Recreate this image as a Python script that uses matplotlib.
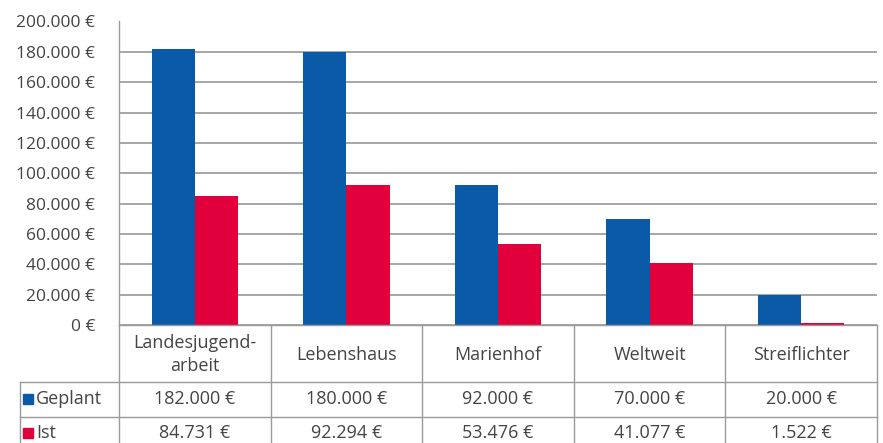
import matplotlib
matplotlib.use("Agg")
import matplotlib.pyplot as plt
import numpy as np
from matplotlib.lines import Line2D

categories = ["Landesjugend-\narbeit", "Lebenshaus", "Marienhof", "Weltweit", "Streiflichter"]
series_names = ["Geplant", "Ist"]
geplant = [182000, 180000, 92000, 70000, 20000]
ist = [84731, 92294, 53476, 41077, 1522]
yticks = [0, 20000, 40000, 60000, 80000, 100000, 120000, 140000, 160000, 180000, 200000]

colors = ["#0A5AA8", "#E2003C"]
txt = "#444444"
grid_c = "#a6a6a6"
tab_c = "#9a9a9a"

plt.rcParams['font.family'] = ['Open Sans', 'DejaVu Sans']
FS_TICK = 12.5
FS_TAB = 13

W, H = 883, 443
fig = plt.figure(figsize=(W / 100, H / 100), dpi=100)
fig.patch.set_facecolor("white")

def fx(px):
    return px / W

def fy(py):
    return 1 - py / H

left_px, right_px = 119, 877
top_px, zero_px = 21.5, 325
ax = fig.add_axes([fx(left_px), fy(zero_px), fx(right_px) - fx(left_px), fy(top_px) - fy(zero_px)])

def fmt(v):
    return f"{v:,.0f}".replace(",", ".") + " €"

x = np.arange(len(categories))
bw = 0.285
ax.bar(x - bw / 2, geplant, bw, color=colors[0], zorder=3)
ax.bar(x + bw / 2, ist, bw, color=colors[1], zorder=3)
ax.set_xlim(-0.5, len(categories) - 0.5)
ax.set_ylim(0, 200000)
ax.set_yticks(yticks)
ax.set_yticklabels([fmt(v) for v in yticks], fontsize=FS_TICK, color=txt)
ax.tick_params(axis="y", length=0, pad=17)
ax.set_xticks([])
ax.grid(axis="y", color=grid_c, linewidth=1.4, zorder=0)
for s in ["top", "right", "bottom"]:
    ax.spines[s].set_visible(False)
ax.spines["left"].set_color(tab_c)
ax.spines["left"].set_linewidth(1.0)

# data table below
col_w = (right_px - left_px) / len(categories)
row_lines = [zero_px, 382, 416.5]
bottom_px = 450
lab_left = 20

def line(x0, y0, x1, y1):
    fig.add_artist(Line2D([fx(x0), fx(x1)], [fy(y0), fy(y1)], color=tab_c, linewidth=1.0))

line(left_px, zero_px, right_px, zero_px)
line(lab_left, row_lines[1], right_px, row_lines[1])
line(lab_left, row_lines[2], right_px, row_lines[2])
for i in range(len(categories) + 1):
    xx = left_px + i * col_w
    line(xx, zero_px, xx, bottom_px)
line(lab_left, row_lines[1], lab_left, bottom_px)

for i, c in enumerate(categories):
    cx = left_px + (i + 0.5) * col_w
    fig.text(fx(cx), fy((zero_px + row_lines[1]) / 2 + 1), c, ha="center", va="center",
             fontsize=FS_TAB, color=txt, linespacing=1.3)
    fig.text(fx(cx), fy((row_lines[1] + row_lines[2]) / 2), fmt(geplant[i]), ha="center",
             va="center", fontsize=FS_TAB, color=txt)
    fig.text(fx(cx), fy(433), fmt(ist[i]), ha="center", va="center", fontsize=FS_TAB, color=txt)

row_y = [(row_lines[1] + row_lines[2]) / 2, 433]
for name, col, yy in zip(series_names, colors, row_y):
    fig.patches.append(plt.Rectangle((fx(23), fy(yy + 5)), fx(10), 10 / H, color=col,
                                     transform=fig.transFigure, figure=fig))
    fig.text(fx(36), fy(yy), name, ha="left", va="center", fontsize=FS_TAB, color=txt)

fig.savefig("out.png", dpi=100, facecolor="white")
